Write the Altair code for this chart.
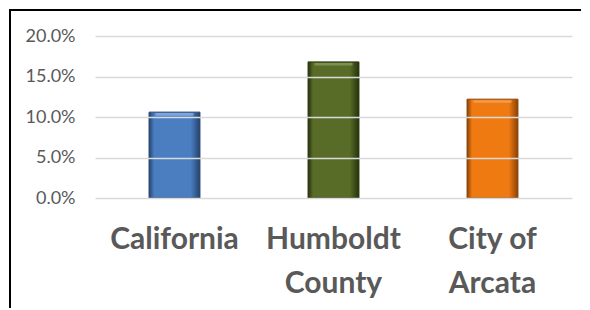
import altair as alt
import pandas as pd

categories = ["California", "Humboldt|County", "City of|Arcata"]
values = [0.106, 0.168, 0.122]
base_colors = ["#4A7EC1", "#586C28", "#F07A12"]
edge_colors = ["#24426E", "#26320C", "#8A4206"]
light_colors = ["#8DB4E6", "#8C9E5E", "#F8A65A"]
y_ticks = [0, 0.05, 0.10, 0.15, 0.20]

df = pd.DataFrame({"cat": categories, "value": values})

W, H = 477, 162

x_enc = alt.X("cat:N", sort=categories,
              scale=alt.Scale(paddingInner=0.68, paddingOuter=0.34),
              axis=alt.Axis(title=None, labelAngle=0, labelExpr="split(datum.label, '|')",
                            labelFont="Lato", labelFontWeight="bold", labelFontSize=30,
                            labelColor="#595959", labelLineHeight=44, labelPadding=26,
                            ticks=False, domain=False, grid=False))
y_enc = alt.Y("value:Q", scale=alt.Scale(domain=[0, 0.2], nice=False),
              axis=alt.Axis(title=None, format=".1%", values=y_ticks,
                            labelFont="Lato", labelFontSize=18, labelColor="#595959",
                            labelPadding=20, ticks=False, domain=False,
                            gridColor="#D9D9D9", gridWidth=1.5, zindex=1))

layers = []
for i, c in enumerate(categories):
    grad = alt.Gradient(gradient="linear", x1=0, x2=1, y1=0, y2=0, stops=[
        alt.GradientStop(color=edge_colors[i], offset=0),
        alt.GradientStop(color=base_colors[i], offset=0.1),
        alt.GradientStop(color=base_colors[i], offset=0.82),
        alt.GradientStop(color=edge_colors[i], offset=1),
    ])
    bar = alt.Chart(df).transform_filter(alt.datum.cat == c).mark_bar(
        color=grad, stroke=edge_colors[i], strokeWidth=1
    ).encode(x=x_enc, y=y_enc)
    hl = alt.Chart(df).transform_filter(alt.datum.cat == c).transform_calculate(
        top="datum.value - 0.0012", bot="datum.value - 0.0045"
    ).mark_bar(color=light_colors[i], opacity=0.75, size=38).encode(
        x=x_enc, y=alt.Y("top:Q"), y2="bot:Q")
    layers += [bar, hl]

frame = pd.DataFrame({"k": [0]})
left_rule = alt.Chart(frame).mark_rule(color="#000000", strokeWidth=2).encode(
    x=alt.value(-85), y=alt.value(-27), y2=alt.value(272))
top_rule = alt.Chart(frame).mark_rule(color="#000000", strokeWidth=2).encode(
    x=alt.value(-86), x2=alt.value(486), y=alt.value(-26))

chart = alt.layer(*layers, left_rule, top_rule).properties(
    width=W, height=H, background="white",
    padding={"left": 0, "top": 0, "right": 0, "bottom": 0}
).configure_view(stroke=None)

chart.save("out.html", embed_options={"renderer": "svg", "actions": False})
